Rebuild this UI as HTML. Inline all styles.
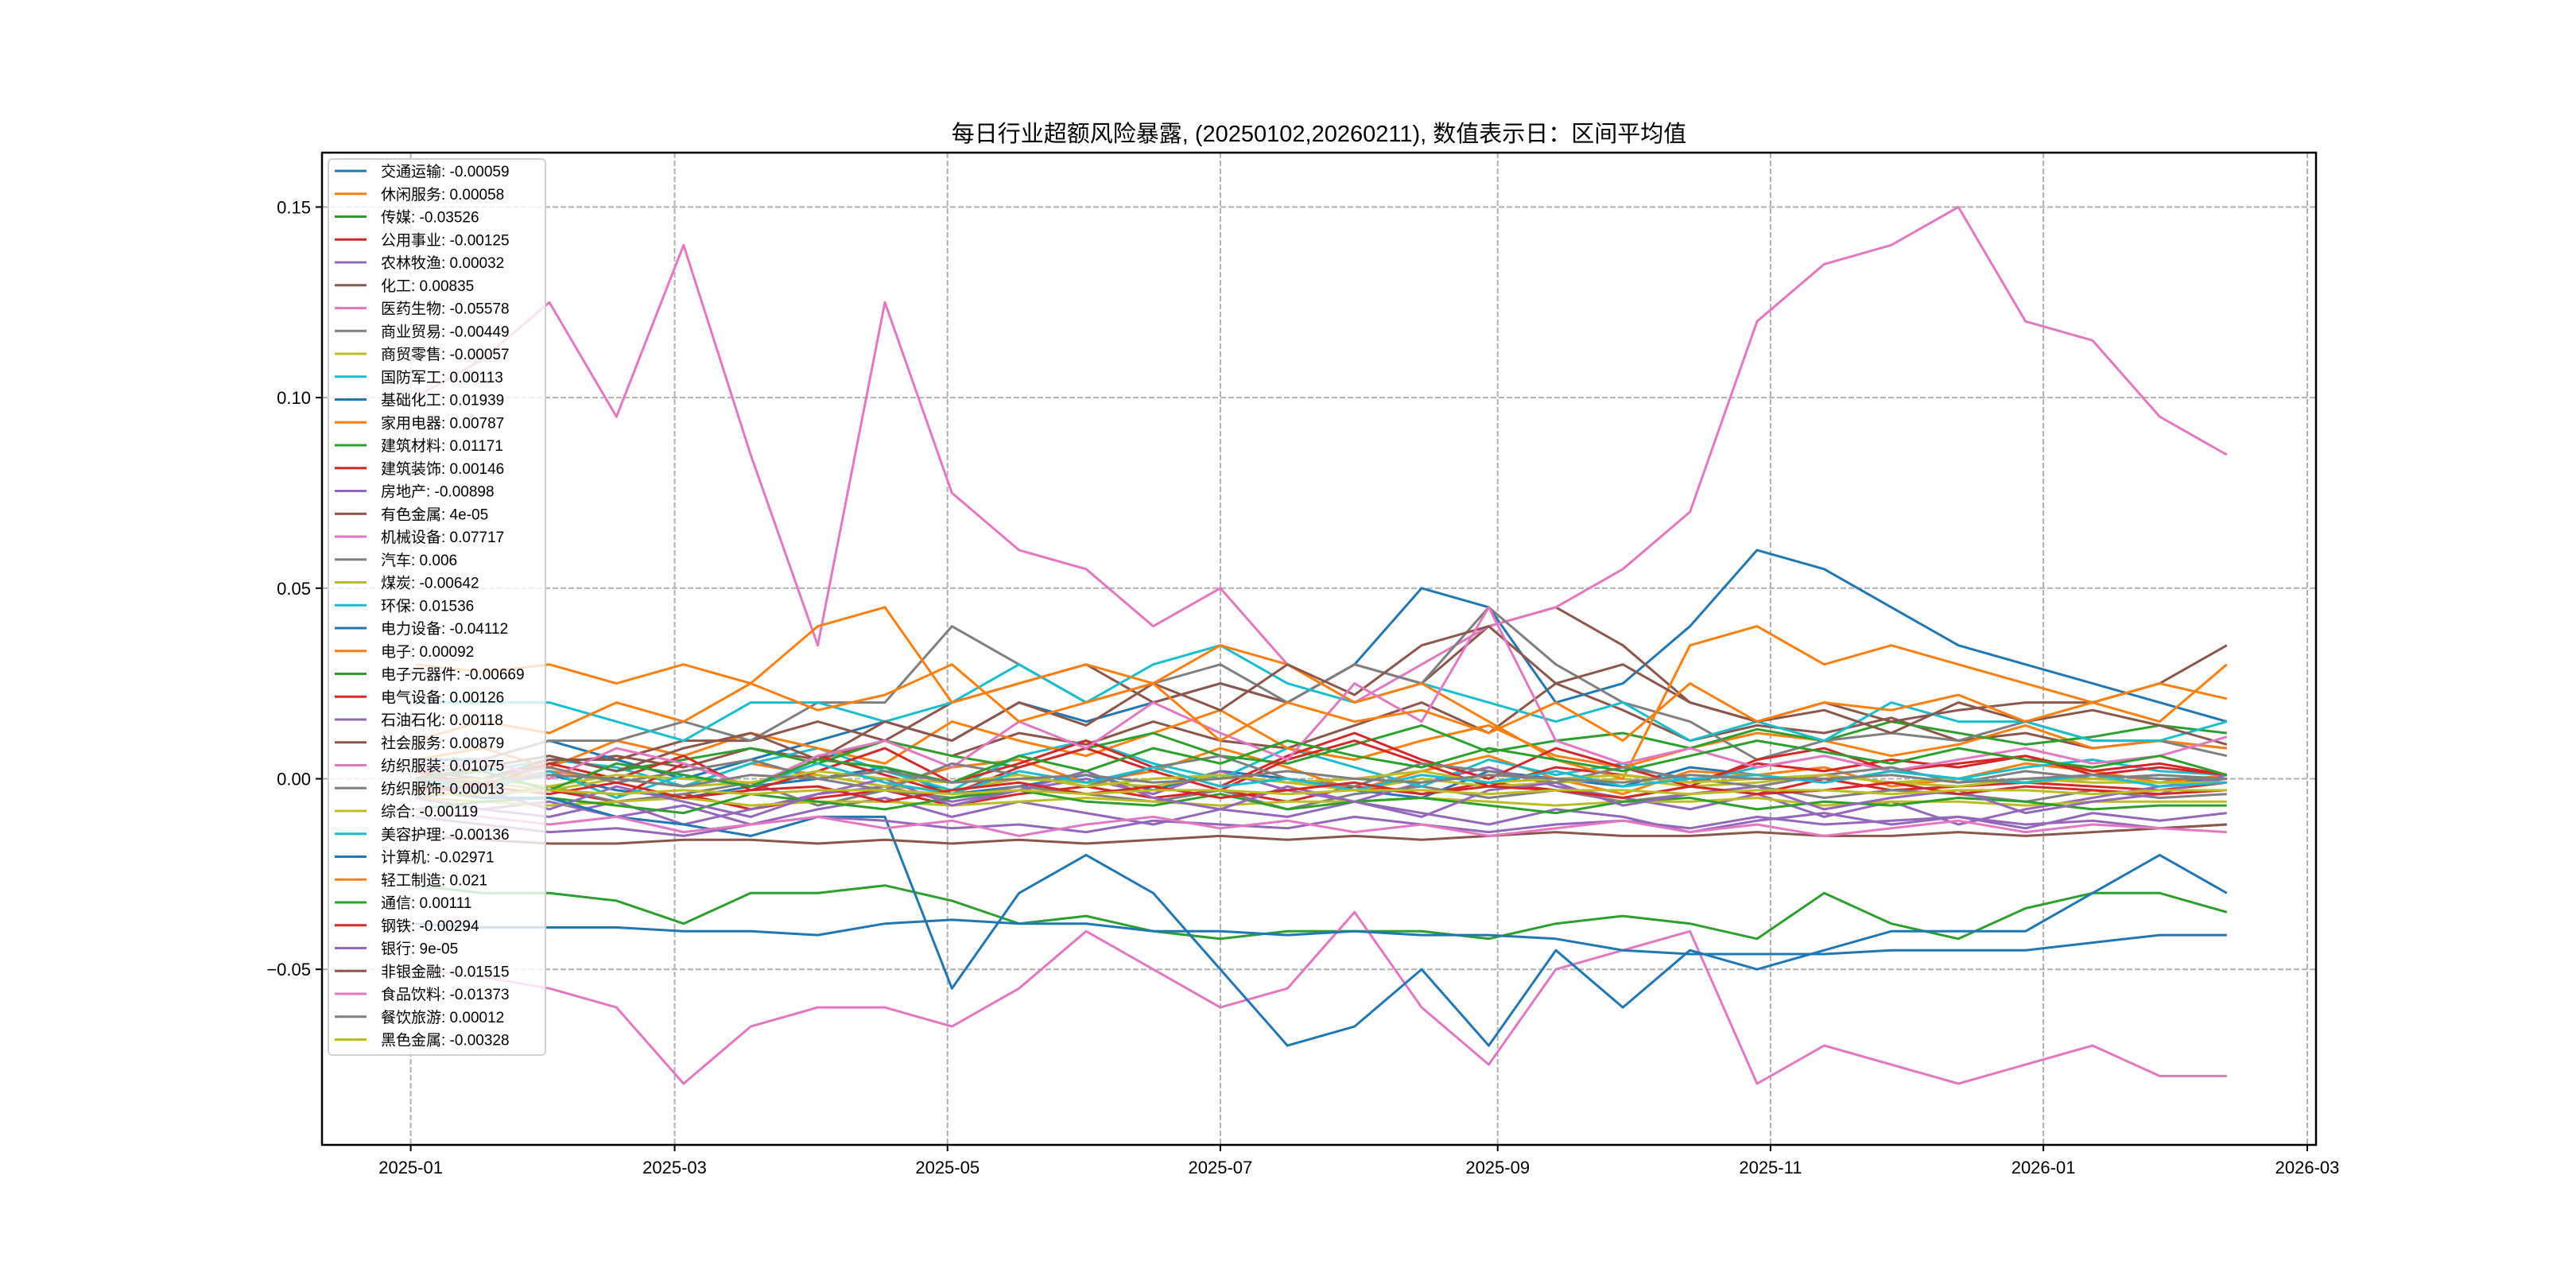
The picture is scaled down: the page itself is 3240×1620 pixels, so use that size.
<!DOCTYPE html>
<html><head><meta charset="utf-8"><style>
body{margin:0;background:#fff;}
svg{display:block;font-family:"Liberation Sans","Noto Sans CJK SC","WenQuanYi Zen Hei",sans-serif;}
</style></head><body>
<svg id="chart" width="3240" height="1620" viewBox="0 0 3240 1620">
<rect width="3240" height="1620" fill="#fff"/>
<text x="1659" y="178" font-size="29" text-anchor="middle" fill="#000">每日行业超额风险暴露, (20250102,20260211),  数值表示日：区间平均值</text>
<g id="grid"></g>
<g id="lines"></g>
<g id="axes"></g>
<g id="legend"></g>
</svg>
<script>
const dates=["2025-01-02","2025-01-17","2025-02-01","2025-02-16","2025-03-03","2025-03-18","2025-04-02","2025-04-17","2025-05-02","2025-05-17","2025-06-01","2025-06-16","2025-07-01","2025-07-16","2025-07-31","2025-08-15","2025-08-30","2025-09-14","2025-09-29","2025-10-14","2025-10-29","2025-11-13","2025-11-28","2025-12-13","2025-12-28","2026-01-12","2026-01-27","2026-02-11"];
const names=["交通运输","休闲服务","传媒","公用事业","农林牧渔","化工","医药生物","商业贸易","商贸零售","国防军工","基础化工","家用电器","建筑材料","建筑装饰","房地产","有色金属","机械设备","汽车","煤炭","环保","电力设备","电子","电子元器件","电气设备","石油石化","社会服务","纺织服装","纺织服饰","综合","美容护理","计算机","轻工制造","通信","钢铁","银行","非银金融","食品饮料","餐饮旅游","黑色金属"];
const legendValues=["-0.00059","0.00058","-0.03526","-0.00125","0.00032","0.00835","-0.05578","-0.00449","-0.00057","0.00113","0.01939","0.00787","0.01171","0.00146","-0.00898","4e-05","0.07717","0.006","-0.00642","0.01536","-0.04112","0.00092","-0.00669","0.00126","0.00118","0.00879","0.01075","0.00013","-0.00119","-0.00136","-0.02971","0.021","0.00111","-0.00294","9e-05","-0.01515","-0.01373","0.00012","-0.00328"];
// series values in units of 0.001
const s00=[0,-2,1,-3,-5,-2,0,3,-4,-2,1,-3,2,0,-3,-5,2,0,-2,3,1,-1,2,0,-1,1,0,-1];
const s01=[-3,-1,2,0,-2,4,1,-2,3,5,-1,2,8,3,-3,2,6,0,-4,2,1,3,-2,0,4,2,-1,1];
const s02=[-28,-30,-30,-32,-38,-30,-30,-28,-32,-38,-36,-40,-42,-40,-40,-40,-42,-38,-36,-38,-42,-30,-38,-42,-34,-30,-30,-35];
const s03=[-2,-4,-3,-6,-4,-8,-5,-3,-7,-4,-2,-5,-3,-6,-2,-4,-1,-3,-5,-2,-4,0,-3,-2,-1,-2,-3,-1];
const s04=[-5,-8,-10,-6,-12,-8,-4,-2,-6,-3,0,-4,2,-3,-6,-1,3,-2,-5,-8,-4,-10,-6,-12,-8,-5,-2,0];
const s05=[2,0,4,6,3,8,5,10,6,12,9,15,10,8,14,20,12,25,18,10,14,12,16,10,12,8,10,8];
const s06=[-50,-52,-55,-60,-80,-65,-60,-60,-65,-55,-40,-50,-60,-55,-35,-60,-75,-50,-45,-40,-80,-70,-75,-80,-75,-70,-78,-78];
const s07=[-3,-5,-2,-6,-4,-1,-7,-3,-5,-2,-4,-6,-3,-8,-4,-2,-5,-3,-6,-4,-2,-5,-3,-4,-6,-3,-5,-4];
const s08=[-2,-1,-3,0,-2,-1,1,-2,-3,0,-1,-2,1,-1,-3,0,-2,-1,0,-2,-1,1,-1,-2,0,-1,-1,-1];
const s09=[0,2,5,3,-2,4,8,2,-3,6,10,4,0,8,3,-2,5,1,4,-1,3,6,2,0,3,5,2,1];
const s10=[5,5,10,5,0,5,10,15,10,20,15,20,25,20,30,50,45,20,25,40,60,55,45,35,30,25,20,15];
const s11=[5,8,3,10,6,12,8,4,15,10,6,12,18,8,5,10,14,6,3,8,12,10,6,9,14,8,10,8];
const s12=[0,3,6,2,5,8,4,10,6,3,8,12,6,4,9,14,7,10,12,8,13,10,15,12,9,11,14,12];
const s13=[0,-3,2,-5,4,-2,6,1,-4,3,8,2,-3,5,10,4,-2,3,1,-1,4,2,5,3,6,2,4,1];
const s14=[-5,-8,-6,-10,-7,-12,-8,-5,-10,-6,-9,-12,-8,-10,-6,-9,-12,-8,-10,-14,-11,-9,-12,-10,-13,-9,-11,-9];
const s15=[0,0,5,5,10,10,15,10,20,25,30,20,25,20,30,25,40,45,35,20,15,20,15,18,20,20,25,35];
const s16=[100,110,125,95,140,85,35,125,75,60,55,40,50,30,20,30,40,45,55,70,120,135,140,150,120,115,95,85];
const s17=[0,5,10,10,15,10,20,20,40,30,20,25,30,20,30,25,45,30,20,15,5,10,12,10,15,10,10,6];
const s18=[-5,-6,-7,-6,-5,-7,-6,-6,-7,-6,-5,-6,-7,-6,-6,-5,-6,-7,-6,-6,-5,-7,-6,-6,-7,-6,-6,-6];
const s19=[20,20,20,15,10,20,20,15,20,30,20,30,35,25,20,25,20,15,20,10,15,10,20,15,15,10,10,15];
const s20=[-38,-39,-39,-39,-40,-40,-41,-38,-37,-38,-38,-40,-40,-41,-40,-41,-41,-42,-45,-46,-46,-46,-45,-45,-45,-43,-41,-41];
const s21=[30,28,30,25,30,25,40,45,20,25,30,25,35,30,20,25,15,5,0,35,40,30,35,30,25,20,15,30];
const s22=[-8,-6,-5,-7,-9,-4,-6,-8,-5,-3,-6,-7,-4,-8,-6,-5,-7,-9,-6,-5,-8,-6,-7,-5,-6,-8,-7,-7];
const s23=[2,-2,4,0,6,-3,2,8,-1,4,10,3,-2,6,12,5,0,8,3,-2,5,8,2,4,6,1,3,1];
const s24=[-5,-3,-8,-2,-6,-10,-4,0,-7,-3,2,-5,-8,-2,-6,-10,-3,-1,-7,-4,-2,-8,-5,-3,-9,-6,-4,1];
const s25=[0,3,6,2,8,12,5,15,10,20,14,25,18,30,22,35,40,25,30,20,15,18,12,20,15,18,14,9];
const s26=[2,5,0,8,4,-2,6,10,3,15,8,20,12,5,25,15,45,10,4,8,3,6,2,5,8,4,6,11];
const s27=[-2,0,3,-1,2,5,0,-3,4,1,-2,3,6,0,-2,4,2,-1,3,0,-2,1,3,-1,2,0,1,0];
const s28=[-1,0,-2,1,0,-1,2,0,-1,1,-2,0,1,-1,0,2,-1,0,1,-1,0,1,-1,0,-1,0,-1,-1];
const s29=[0,-3,2,-5,1,-2,4,-1,-4,2,-1,3,-2,0,-3,1,-1,2,-2,0,1,-1,2,0,-1,1,-2,-1];
const s30=[0,-5,-5,-10,-12,-15,-10,-10,-55,-30,-20,-30,-50,-70,-65,-50,-70,-45,-60,-45,-50,-45,-40,-40,-40,-30,-20,-30];
const s31=[10,15,12,20,15,25,18,22,30,15,20,25,10,20,15,18,12,20,10,25,15,20,18,22,15,20,25,21];
const s32=[0,2,-3,4,1,-2,5,3,-1,6,2,8,4,10,6,3,8,5,2,6,10,7,4,8,5,3,6,1];
const s33=[-3,-2,-4,-1,-5,-3,-2,-6,-3,-1,-4,-2,-5,-3,-1,-4,-2,-3,-5,-2,-4,-3,-1,-4,-2,-3,-4,-3];
const s34=[-10,-12,-14,-13,-15,-12,-10,-11,-13,-12,-14,-11,-12,-13,-10,-12,-14,-12,-11,-13,-10,-12,-11,-10,-12,-11,-13,-12];
const s35=[-15,-16,-17,-17,-16,-16,-17,-16,-17,-16,-17,-16,-15,-16,-15,-16,-15,-14,-15,-15,-14,-15,-15,-14,-15,-14,-13,-12];
const s36=[-8,-10,-12,-10,-14,-12,-10,-13,-11,-15,-12,-10,-13,-11,-14,-12,-15,-13,-11,-14,-12,-15,-13,-11,-14,-12,-13,-14];
const s37=[0,-1,1,0,-2,1,0,2,-1,0,1,-1,0,2,0,-1,1,0,-1,1,0,0,1,-1,0,1,0,0];
const s38=[-4,-4,-3,-4,-3,-4,-3,-3,-4,-3,-4,-3,-3,-4,-3,-3,-4,-3,-3,-4,-3,-3,-4,-3,-3,-4,-3,-3];
const series=[s00,s01,s02,s03,s04,s05,s06,s07,s08,s09,s10,s11,s12,s13,s14,s15,s16,s17,s18,s19,s20,s21,s22,s23,s24,s25,s26,s27,s28,s29,s30,s31,s32,s33,s34,s35,s36,s37,s38];
const yTicks=[-0.05,0,0.05,0.10,0.15];
const yTickLabels=["−0.05","0.00","0.05","0.10","0.15"];
const xTicks=["2025-01-01","2025-03-01","2025-05-01","2025-07-01","2025-09-01","2025-11-01","2026-01-01","2026-03-01"];
const xTickLabels=["2025-01","2025-03","2025-05","2025-07","2025-09","2025-11","2026-01","2026-03"];

const colors=["#1f77b4","#ff7f0e","#2ca02c","#d62728","#9467bd","#8c564b","#e377c2","#7f7f7f","#bcbd22","#17becf"];
const NS="http://www.w3.org/2000/svg";
const L=405,R=2913,T=192,B=1440;
const base=Date.UTC(2025,0,1);
function dayOf(s){const p=s.split("-");return (Date.UTC(+p[0],+p[1]-1,+p[2])-base)/86400000;}
function X(s){return 516.6+dayOf(s)*5.626;}
function Y(v){return 979.5-v*4794;}
function mk(tag,attrs,parent){const e=document.createElementNS(NS,tag);for(const k in attrs)e.setAttribute(k,attrs[k]);parent.appendChild(e);return e;}
const grid=document.getElementById("grid"),lines=document.getElementById("lines"),axes=document.getElementById("axes"),legend=document.getElementById("legend");
xTicks.forEach((t,i)=>{const x=X(t);
 const g=mk("line",{x1:x,x2:x,y1:T,y2:B,stroke:"#b0b0b0","stroke-width":2,"stroke-dasharray":"7,3"},grid);
 
 
 const tk=mk("line",{x1:x,x2:x,y1:B,y2:B+8,stroke:"#000","stroke-width":2},axes);
 
 
 const tx=mk("text",{x:x,y:B+36,"font-size":22,"text-anchor":"middle",fill:"#000"},axes);
 tx.textContent=xTickLabels[i];
 
 
});
yTicks.forEach((v,i)=>{const y=Y(v);
 const g=mk("line",{x1:L,x2:R,y1:y,y2:y,stroke:"#b0b0b0","stroke-width":2,"stroke-dasharray":"7,3"},grid);
 
 
 const tk=mk("line",{x1:L-8,x2:L,y1:y,y2:y,stroke:"#000","stroke-width":2},axes);
 
 
 const tx=mk("text",{x:L-14,y:y+8,"font-size":22,"text-anchor":"end",fill:"#000"},axes);
 tx.textContent=yTickLabels[i];
 
 
});
series.forEach((arr,i)=>{
 const pts=arr.map((v,j)=>X(dates[j]).toFixed(1)+","+Y(v/1000).toFixed(1)).join(" ");
 const p=mk("polyline",{points:pts,fill:"none",stroke:colors[i%10],"stroke-width":3,"stroke-linejoin":"round"},lines);
 
 
});
const frame=mk("rect",{x:L,y:T,width:R-L,height:B-T,fill:"none",stroke:"#000","stroke-width":2.5},axes);


const lb=mk("rect",{x:413,y:200,width:273,height:1127,rx:5,fill:"#fff","fill-opacity":0.8,stroke:"#d0d0d0","stroke-width":2},legend);


names.forEach((n,i)=>{const y=215+i*28.75;
 const ln=mk("line",{x1:421,x2:461,y1:y,y2:y,stroke:colors[i%10],"stroke-width":3},legend);
 
 
 const tx=mk("text",{x:479,y:y+7,"font-size":19,fill:"#000"},legend);
 tx.textContent=n+": "+legendValues[i];
 
 
});
</script>
</body></html>
